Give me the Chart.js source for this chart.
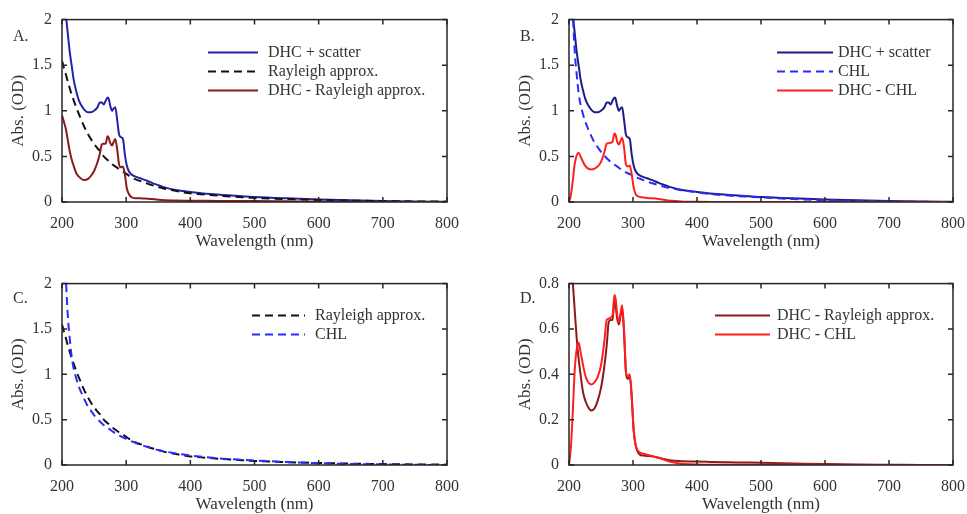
<!DOCTYPE html>
<html>
<head>
<meta charset="utf-8">
<script src="https://cdn.jsdelivr.net/npm/chart.js@4.4.1/dist/chart.umd.min.js"></script>
<style>
  html, body { margin: 0; padding: 0; background: #fff; }
  body { width: 967px; height: 514px; position: relative; overflow: hidden; }
  .panel { position: absolute; }
</style>
</head>
<body>
<div class="panel" style="left:0;top:0;width:480px;height:257px"><canvas id="chartA"></canvas></div>
<div class="panel" style="left:507px;top:0;width:470px;height:257px"><canvas id="chartB"></canvas></div>
<div class="panel" style="left:0;top:264px;width:480px;height:256px"><canvas id="chartC"></canvas></div>
<div class="panel" style="left:507px;top:264px;width:470px;height:256px"><canvas id="chartD"></canvas></div>
<script>
// wavelength grid (nm) shared by every series
const wavelength = [
  200, 203, 206, 209, 212, 215, 218, 222, 226, 230,
  235, 240, 245, 250, 255, 259, 262, 265, 268, 271,
  273, 275, 278, 280, 283, 286, 289, 292, 295, 298,
  301, 304, 307, 311, 316, 322, 330, 340, 350, 360,
  375, 390, 400, 425, 450, 475, 500, 550, 600, 650,
  700, 750, 800,
];

const dhcScatter = [
  2.5, 2.25, 2.05, 1.85, 1.65, 1.5, 1.35, 1.22, 1.12, 1.06,
  1.01, 0.985, 0.985, 1.0, 1.035, 1.09, 1.09, 1.07, 1.11, 1.145,
  1.13, 1.06, 1.0, 1.02, 1.04, 0.9, 0.74, 0.71, 0.69, 0.52,
  0.4, 0.34, 0.31, 0.29, 0.275, 0.26, 0.24, 0.21, 0.185, 0.16,
  0.135, 0.12, 0.11, 0.09, 0.078, 0.066, 0.055, 0.04, 0.028, 0.018,
  0.01, 0.005, 0.002,
];

const rayleigh = [
  1.55, 1.47, 1.4, 1.32, 1.25, 1.18, 1.12, 1.04, 0.97, 0.9,
  0.82, 0.75, 0.69, 0.64, 0.59, 0.56, 0.53, 0.5, 0.48, 0.46,
  0.45, 0.435, 0.415, 0.405, 0.39, 0.375, 0.36, 0.35, 0.335, 0.32,
  0.305, 0.29, 0.28, 0.26, 0.245, 0.23, 0.21, 0.185, 0.165, 0.145,
  0.125, 0.105, 0.095, 0.08, 0.066, 0.055, 0.045, 0.032, 0.022, 0.015,
  0.01, 0.006, 0.004,
];

const chl = [
  null, 3.0, 2.1, 1.65, 1.4, 1.2, 1.07, 0.96, 0.87, 0.8,
  0.72, 0.65, 0.6, 0.55, 0.51, 0.48, 0.46, 0.44, 0.425, 0.41,
  0.4, 0.39, 0.375, 0.365, 0.35, 0.34, 0.325, 0.315, 0.305, 0.295,
  0.285, 0.275, 0.265, 0.255, 0.24, 0.225, 0.205, 0.185, 0.165, 0.15,
  0.13, 0.115, 0.105, 0.085, 0.07, 0.06, 0.05, 0.033, 0.02, 0.012,
  0.006, 0.002, 0,
];

const dhcMinusRayleigh = [
  0.95, 0.88, 0.8, 0.68, 0.56, 0.47, 0.4, 0.32, 0.28, 0.255,
  0.24, 0.25, 0.285, 0.34, 0.43, 0.53, 0.63, 0.64, 0.64, 0.72,
  0.7, 0.65, 0.62, 0.65, 0.69, 0.58, 0.41, 0.38, 0.39, 0.3,
  0.15, 0.09, 0.06, 0.045, 0.042, 0.04, 0.038, 0.032, 0.025, 0.02,
  0.017, 0.015, 0.015, 0.013, 0.012, 0.011, 0.01, 0.007, 0.004, 0.002,
  0.001, 0, 0,
];

const dhcMinusChl = [
  0, 0.08, 0.24, 0.42, 0.51, 0.54, 0.5, 0.44, 0.39, 0.365,
  0.355, 0.365, 0.39, 0.44, 0.54, 0.64, 0.645, 0.65, 0.66, 0.75,
  0.73, 0.67, 0.63, 0.66, 0.705, 0.6, 0.41, 0.39, 0.4, 0.3,
  0.16, 0.09, 0.065, 0.055, 0.05, 0.045, 0.04, 0.032, 0.022, 0.013,
  0.006, 0.003, 0.002, 0.001, 0.001, 0.001, 0.001, 0.001, 0.001, 0,
  0, 0, 0,
];

const xTicks = [200, 300, 400, 500, 600, 700, 800];
const yTicksFull = [0, 0.5, 1, 1.5, 2];
const yTicksDiff = [0, 0.2, 0.4, 0.6, 0.8];

const FONT = "'Liberation Serif', 'DejaVu Serif', serif";
const TEXT = "#333333";
const AXIS = "#262626";

const framePlugin = {
  id: "frame",
  afterDatasetsDraw(chart, args, opts) {
    const { ctx, chartArea: a, scales } = chart;
    ctx.save();
    ctx.strokeStyle = AXIS;
    ctx.lineWidth = 1.5;
    ctx.setLineDash([]);
    ctx.strokeRect(a.left, a.top, a.right - a.left, a.bottom - a.top);
    ctx.beginPath();
    scales.x.ticks.forEach((t) => {
      const px = scales.x.getPixelForValue(t.value);
      ctx.moveTo(px, a.bottom);
      ctx.lineTo(px, a.bottom - 5);
      ctx.moveTo(px, a.top);
      ctx.lineTo(px, a.top + 5);
    });
    scales.y.ticks.forEach((t) => {
      const py = scales.y.getPixelForValue(t.value);
      ctx.moveTo(a.left, py);
      ctx.lineTo(a.left + 5, py);
      ctx.moveTo(a.right, py);
      ctx.lineTo(a.right - 5, py);
    });
    ctx.stroke();

    // panel letter
    ctx.fillStyle = TEXT;
    ctx.font = "16px " + FONT;
    ctx.textBaseline = "middle";
    ctx.textAlign = "left";
    ctx.fillText(opts.letter, 13, opts.letterY);

    // legend, inside the axes box
    const lg = opts.legend;
    chart.data.datasets.forEach((ds, i) => {
      const y = a.top + lg.y + i * lg.step;
      ctx.beginPath();
      ctx.strokeStyle = ds.borderColor;
      ctx.lineWidth = ds.borderWidth;
      ctx.setLineDash(ds.borderDash || []);
      ctx.moveTo(a.left + lg.x0, y);
      ctx.lineTo(a.left + lg.x1, y);
      ctx.stroke();
      ctx.fillStyle = TEXT;
      ctx.fillText(ds.label, a.left + lg.tx, y);
    });
    ctx.restore();
  },
};

function series(label, values, color, dashed) {
  return {
    label,
    data: wavelength.map((x, i) => ({ x, y: values[i] })),
    borderColor: color,
    borderWidth: 2,
    borderDash: dashed ? [8, 5] : [],
    pointRadius: 0,
    fill: false,
    cubicInterpolationMode: "monotone",
    spanGaps: true,
  };
}

function makePanel(id, datasets, p) {
  // last listed line is drawn on top, as in the figure
  datasets.forEach((ds, i) => (ds.order = datasets.length - i));

  new Chart(document.getElementById(id), {
    type: "line",
    data: { datasets },
    options: {
      responsive: true,
      maintainAspectRatio: false,
      animation: false,
      events: [],
      layout: { padding: { top: 17, right: p.padRight, left: 0, bottom: 0 } },
      plugins: {
        legend: { display: false },
        tooltip: { enabled: false },
        frame: { letter: p.letter, letterY: p.letterY, legend: p.legend },
      },
      scales: {
        x: {
          type: "linear",
          min: 200,
          max: 800,
          afterBuildTicks: (s) => {
            s.ticks = xTicks.map((v) => ({ value: v }));
          },
          afterFit: (s) => {
            s.height = p.xHeight;
          },
          grid: { display: false, drawTicks: false },
          border: { display: false },
          ticks: {
            autoSkip: false,
            maxRotation: 0,
            padding: 12,
            color: TEXT,
            font: { family: FONT, size: 16 },
            callback: (v) => String(v),
          },
          title: {
            display: true,
            text: "Wavelength (nm)",
            color: TEXT,
            font: { family: FONT, size: 17, lineHeight: 1.2 },
            padding: { top: 0, bottom: p.titlePad },
          },
        },
        y: {
          min: 0,
          max: p.yTicks[p.yTicks.length - 1],
          afterBuildTicks: (s) => {
            s.ticks = p.yTicks.map((v) => ({ value: v }));
          },
          afterFit: (s) => {
            s.width = 62;
          },
          grid: { display: false, drawTicks: false },
          border: { display: false },
          ticks: {
            autoSkip: false,
            padding: 10,
            color: TEXT,
            font: { family: FONT, size: 16 },
            callback: (v) => String(v),
          },
          title: {
            display: true,
            text: "Abs. (OD)",
            color: TEXT,
            font: { family: FONT, size: 17, lineHeight: 1.2 },
            padding: { top: 8, bottom: 0 },
          },
        },
      },
    },
    plugins: [framePlugin],
  });
}

makePanel(
  "chartA",
  [
    series("DHC + scatter", dhcScatter, "#2323a8", false),
    series("Rayleigh approx.", rayleigh, "#111111", true),
    series("DHC - Rayleigh approx.", dhcMinusRayleigh, "#8c1a1a", false),
  ],
  {
    letter: "A.", letterY: 37, padRight: 33, xHeight: 55, titlePad: 5,
    yTicks: yTicksFull,
    legend: { x0: 146, x1: 196, tx: 206, y: 33, step: 19 },
  }
);

makePanel(
  "chartB",
  [
    series("DHC + scatter", dhcScatter, "#1c1c86", false),
    series("CHL", chl, "#2a2aff", true),
    series("DHC - CHL", dhcMinusChl, "#ff1f1f", false),
  ],
  {
    letter: "B.", letterY: 37, padRight: 24, xHeight: 55, titlePad: 5,
    yTicks: yTicksFull,
    legend: { x0: 208, x1: 264, tx: 269, y: 33, step: 19 },
  }
);

makePanel(
  "chartC",
  [
    series("Rayleigh approx.", rayleigh, "#111111", true),
    series("CHL", chl, "#2a2aff", true),
  ],
  {
    letter: "C.", letterY: 35, padRight: 33, xHeight: 55, titlePad: 5,
    yTicks: yTicksFull,
    legend: { x0: 190, x1: 243, tx: 253, y: 32, step: 19 },
  }
);

makePanel(
  "chartD",
  [
    series("DHC - Rayleigh approx.", dhcMinusRayleigh, "#8c1a1a", false),
    series("DHC - CHL", dhcMinusChl, "#ff1f1f", false),
  ],
  {
    letter: "D.", letterY: 35, padRight: 24, xHeight: 55, titlePad: 5,
    yTicks: yTicksDiff,
    legend: { x0: 146, x1: 201, tx: 208, y: 32, step: 19 },
  }
);
</script>
</body>
</html>
